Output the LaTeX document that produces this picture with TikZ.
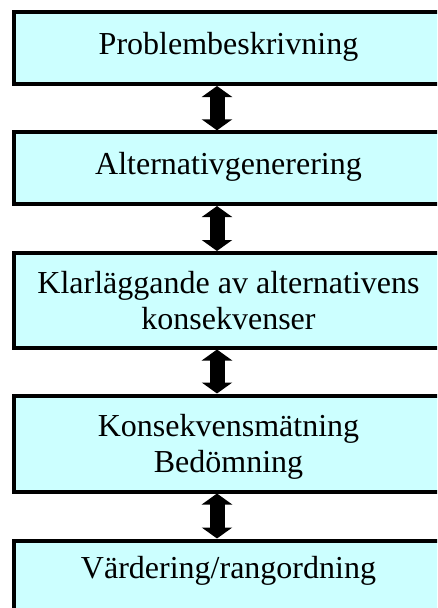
\documentclass[tikz,border=0pt]{standalone}
\usepackage{fontspec}
\setmainfont{Liberation Serif}
\usetikzlibrary{arrows.meta}
\definecolor{boxfill}{HTML}{CCFFFF}
\tikzset{
  stepbox/.style={draw=black, line width=4pt, fill=boxfill, minimum width=429pt,
    inner sep=0pt, align=center, font=\fontsize{32}{35.6}\selectfont},
  oneline/.style={text height=21pt, text depth=9pt},
  twoline/.style={text depth=0pt},
  dblarrow/.style={line width=15pt, draw=black,
    {Triangle[width=30pt,length=11pt]}-{Triangle[width=30pt,length=11pt]}}
}
\begin{document}
\begin{tikzpicture}
\useasboundingbox (0,0) rectangle (437pt,-608pt);
\clip (0,0) rectangle (437pt,-608pt);
\fill[white] (0,0) rectangle (437pt,-608pt);
\node[stepbox, oneline, minimum height=72pt] (b1) at (228.5pt,-48pt) {Problembeskrivning};
\node[stepbox, oneline, minimum height=71.7pt] (b2) at (228.5pt,-168.2pt) {Alternativgenerering};
\node[stepbox, twoline, minimum height=94.5pt] (b3) at (228.5pt,-300.25pt) {Klarläggande av alternativens\\konsekvenser};
\node[stepbox, twoline, minimum height=96pt] (b4) at (228.5pt,-443.5pt) {Konsekvensmätning\\Bedömning};
\node[stepbox, text height=21pt, text depth=18pt, minimum height=72pt] (b5) at (228.5pt,-576.5pt) {Värdering/rangordning};
\coordinate (ax) at (217pt,0);
\draw[dblarrow] (b1.south -| ax) -- (b2.north -| ax);
\draw[dblarrow] (b2.south -| ax) -- (b3.north -| ax);
\draw[dblarrow] (b3.south -| ax) -- (b4.north -| ax);
\draw[dblarrow] (b4.south -| ax) -- (b5.north -| ax);
\end{tikzpicture}
\end{document}
